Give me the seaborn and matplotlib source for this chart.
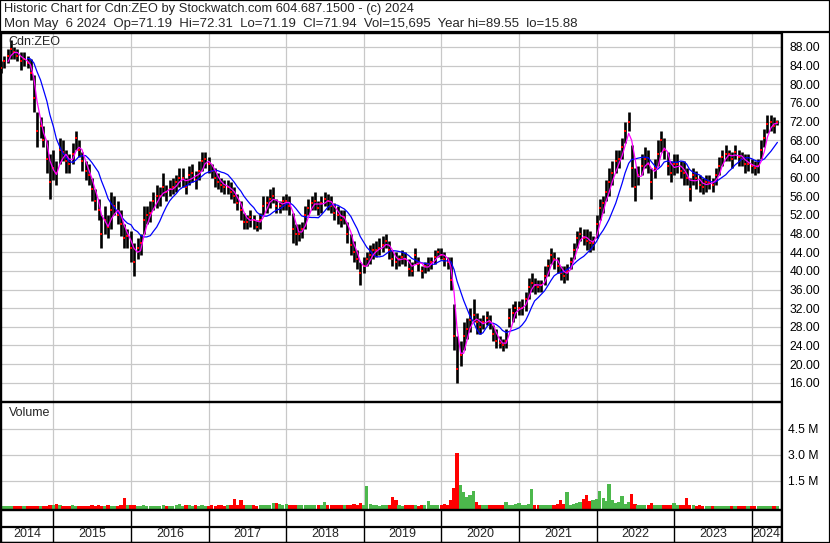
import numpy as np
import pandas as pd
import seaborn as sns
import matplotlib.pyplot as plt
from matplotlib.lines import Line2D
from matplotlib.patches import Rectangle

# -----------------------------
# Data (semi-monthly)
# -----------------------------
high = [
    85, 86, 87.5, 89.5, 88, 87.5, 87, 87, 86, 85.5, 82, 74, 73, 71, 68, 65,
    66, 63.5, 68.5, 68, 66, 65, 67.5, 70, 68, 65.5, 63.5, 63, 60, 57.5, 55.5, 52, 54, 52, 57, 56, 55, 53, 50, 49,
    48.5, 46, 47, 48, 54, 54, 55, 57, 58.5, 58, 61, 58.5, 59.5, 60, 60.5, 62, 62, 60, 62.5, 63, 61.5, 63.5, 65.5, 65.5,
    64.5, 63, 62, 61, 60, 59.5, 59.5, 59, 58, 56.5, 55, 52.5, 52, 53, 52, 51, 52.5, 56, 56, 57.5, 58, 55.5, 55, 56,
    56.5, 56, 52.5, 50, 50, 50.5, 54, 55.5, 56, 57, 55, 56, 57, 56.5, 56, 54.5, 54, 53, 53, 50.5, 48, 46.5, 44.5, 42,
    43, 44, 45.5, 46, 46.5, 47, 47.5, 48, 46.5, 44.5, 44, 43.5, 44.5, 44, 42.5, 42, 45, 43, 41, 42, 43, 43, 44.5, 45,
    45, 44, 43, 43, 33, 26, 25, 29, 30, 32, 34, 31, 30, 30.5, 31.5, 30.5, 28.5, 27.5, 26, 25.5, 27.5, 32, 33, 33.5,
    33.5, 34, 35.5, 38.5, 39.5, 38.5, 38, 38, 41, 42.5, 45, 44, 43, 41, 41, 41.5, 43, 46, 48.5, 49.5, 49, 49, 48.5, 47.5,
    52, 55.5, 56, 59.5, 62, 63.5, 66, 66, 68.5, 72, 74, 67, 62, 62.5, 65, 66.5, 66, 62, 64, 68, 70, 68.5, 65.5, 63.5,
    65, 65, 63.5, 63.5, 62, 60, 62, 61.5, 60.5, 60, 60.5, 60.5, 60, 62, 64.5, 66, 67, 66, 65.5, 67, 66, 65.5, 65, 65,
    64, 63.5, 64, 68, 70.5, 73.5, 73.5, 73, 72.31,
]
low = [
    82.5, 83.5, 84.5, 85.5, 85.5, 85, 83, 84, 83.5, 81, 74, 66.5, 68.5, 66.5, 61, 55.5,
    59.5, 58.5, 63, 63.5, 61, 61, 63, 66, 64.5, 61.5, 59.5, 58.5, 55, 53, 51, 45, 48, 47, 49, 52, 50, 47.5, 45, 45,
    42, 39, 42.5, 43.5, 48, 50, 50.5, 53, 53.5, 54, 56, 55, 56, 56.5, 57, 58, 58, 56.5, 58.5, 59, 57.5, 59.5, 61.5, 62,
    61, 60, 58, 57.5, 57, 56.5, 56.5, 55.5, 54.5, 53, 51, 49, 49, 49.5, 49, 48.5, 49, 52, 52.5, 53.5, 54.5, 52.5, 52.5, 53,
    53, 52, 46, 45.5, 46.5, 47, 49, 52, 53, 53, 52, 52.5, 54, 53, 52.5, 51, 50, 49.5, 50, 46, 43.5, 42, 40.5, 37,
    39.5, 41, 41.5, 42.5, 43, 43.5, 44, 45, 42.5, 41, 40.5, 41, 41.5, 41, 39, 39, 41.5, 40, 38.5, 39.5, 40, 40.5, 41.5, 43,
    42.5, 41, 40.5, 36, 23, 16, 19.5, 23, 25.5, 27, 29, 26.5, 26.5, 27.5, 28.5, 27.5, 25, 23.5, 23.5, 22.8, 23.5, 28, 29, 30,
    30.5, 30.5, 31.5, 34, 35.5, 35, 35.5, 35.5, 37, 39, 41.5, 40.5, 39.5, 38, 37.5, 38, 40.5, 42.5, 45, 46.5, 45.5, 44.5, 44, 44.5,
    47, 51, 52.5, 55, 56, 58.5, 61, 62, 64, 67.5, 70, 58, 55, 58.5, 60.5, 62, 61, 55.5, 60, 62.5, 65.5, 64, 60.5, 59,
    60.5, 61, 60, 58.5, 58.5, 55, 58.5, 57.5, 57, 56.5, 57, 57.5, 57, 58.5, 60.5, 62.5, 63.5, 63.5, 62, 64, 62.5, 62.5, 61, 61.5,
    61, 60.5, 61, 64, 66.5, 69.5, 70, 69.5, 71.19,
]
close = [
    83.5, 85, 86, 87.5, 87, 86, 85, 85.5, 84.5, 82.5, 77, 70, 71, 68, 64, 59,
    62, 61, 66, 65.5, 63.5, 63, 65, 68.5, 66, 63.5, 61.5, 60.5, 57.5, 55, 53, 48, 51, 49.5, 53, 54, 52, 50, 47, 47.5,
    45, 42, 45, 46, 51, 52, 52.5, 55, 56, 56, 58, 57, 57.5, 58, 59, 60, 60, 58, 60.5, 61, 59.5, 61.5, 63.5, 64,
    63, 61.5, 60, 59, 58.5, 58, 58, 57, 56, 54.5, 53, 50.5, 50.5, 51.5, 51, 49.5, 51, 54, 54.5, 55.5, 56, 54, 54, 55,
    55, 54, 49, 48, 48, 49, 52, 53.5, 54.5, 55, 53.5, 54.5, 55.5, 55, 54, 52.5, 52, 51, 51.5, 48, 45.5, 44, 42.5, 39.5,
    41, 42.5, 43.5, 44.5, 44.5, 45, 45.5, 46.5, 44.5, 42.5, 42, 42.5, 43, 42.5, 40.5, 40, 43.5, 41.5, 40, 41, 41.5, 42, 43, 44,
    43.5, 42.5, 42, 38, 26, 19, 22, 26, 27.5, 29.5, 30.5, 29, 28, 29, 30, 29, 26.5, 25, 24.5, 24, 25, 30, 31, 32,
    32, 32, 34, 36.5, 37.5, 37, 36.5, 37, 39, 41, 43.5, 42.5, 41, 39.5, 39, 40, 42, 44.5, 47, 48, 47, 46.5, 46, 46,
    50, 53.5, 54.5, 57, 59, 61, 63.5, 64, 66.5, 70, 72, 62, 58, 60.5, 62.5, 64, 63, 59, 62, 65, 68, 66, 62.5, 61,
    63, 63, 61.5, 61, 60, 57.5, 60.5, 60, 58.5, 58, 59, 59, 58.5, 60.5, 62.5, 64.5, 65, 65, 64, 65.5, 64.5, 64, 63, 63,
    62.5, 62, 62.5, 66, 68.5, 71.5, 72, 71, 71.94,
]
# volume in millions
vol = [
    0.02, 0.03, 0.02, 0.03, 0.03, 0.02, 0.03, 0.03, 0.02, 0.04, 0.05, 0.03, 0.05, 0.04, 0.05, 0.06,
    0.06, 0.12, 0.08, 0.04, 0.03, 0.04, 0.06, 0.03, 0.03, 0.04, 0.05, 0.04, 0.06, 0.05, 0.06, 0.05, 0.04, 0.06, 0.04, 0.05, 0.04, 0.06, 0.5, 0.08,
    0.08, 0.06, 0.05, 0.04, 0.06, 0.05, 0.04, 0.03, 0.05, 0.04, 0.06, 0.04, 0.05, 0.05, 0.06, 0.15, 0.05, 0.06, 0.08, 0.05, 0.06, 0.05, 0.07, 0.05,
    0.05, 0.06, 0.05, 0.08, 0.06, 0.05, 0.07, 0.06, 0.43, 0.08, 0.37, 0.06, 0.08, 0.06, 0.07, 0.05, 0.08, 0.1, 0.06, 0.08, 0.2, 0.22, 0.12, 0.08,
    0.15, 0.08, 0.1, 0.06, 0.08, 0.07, 0.06, 0.09, 0.06, 0.08, 0.07, 0.06, 0.26, 0.08, 0.06, 0.07, 0.09, 0.06, 0.08, 0.1, 0.08, 0.12, 0.09, 0.2,
    0.1, 1.18, 0.15, 0.06, 0.08, 0.05, 0.06, 0.07, 0.08, 0.53, 0.38, 0.06, 0.05, 0.07, 0.06, 0.08, 0.06, 0.05, 0.07, 0.06, 0.32, 0.08, 0.06, 0.07,
    0.06, 0.15, 0.08, 0.35, 1.05, 3.07, 1.24, 0.85, 0.55, 0.66, 0.89, 0.25, 0.1, 0.08, 0.09, 0.08, 0.06, 0.07, 0.09, 0.08, 0.27, 0.1, 0.09, 0.15,
    0.2, 0.1, 0.09, 0.12, 1.01, 0.1, 0.08, 0.1, 0.09, 0.1, 0.08, 0.1, 0.12, 0.4, 0.15, 0.84, 0.1, 0.15, 0.2, 0.25, 0.45, 0.66, 0.3, 0.4,
    0.45, 0.89, 0.5, 0.3, 1.3, 0.38, 0.2, 0.25, 0.61, 0.15, 0.25, 0.72, 0.15, 0.1, 0.1, 0.08, 0.1, 0.23, 0.09, 0.1, 0.08, 0.07, 0.08, 0.06,
    0.2, 0.08, 0.06, 0.08, 0.51, 0.1, 0.06, 0.05, 0.06, 0.04, 0.05, 0.04, 0.04, 0.03, 0.03, 0.04, 0.03, 0.04, 0.03, 0.03, 0.02, 0.03, 0.02, 0.03,
    0.02, 0.03, 0.02, 0.02, 0.03, 0.02, 0.02, 0.03, 0.02,
]
year_labels = ["2014", "2015", "2016", "2017", "2018", "2019", "2020", "2021", "2022", "2023", "2024"]
price_ticks = [16, 20, 24, 28, 32, 36, 40, 44, 48, 52, 56, 60, 64, 68, 72, 76, 80, 84, 88]
vol_ticks = [1.5, 3.0, 4.5]

title1 = "Historic Chart for Cdn:ZEO by Stockwatch.com 604.687.1500 - (c) 2024"
title2 = ("Mon May  6 2024  Op=71.19  Hi=72.31  Lo=71.19  Cl=71.94  "
          "Vol=15,695  Year hi=89.55  lo=15.88")

# -----------------------------
# Frame
# -----------------------------
sns.set_style("white")
plt.rcParams["font.family"] = ["Liberation Sans", "DejaVu Sans"]

dates = pd.date_range("2014-05-01", periods=len(close), freq="SMS")
df = pd.DataFrame({"date": dates, "high": high, "low": low, "close": close, "vol": vol})
df["ma_short"] = df["close"].rolling(3).mean()
df["ma_long"] = df["close"].rolling(9).mean()
df["up"] = df["close"].diff().fillna(0) >= 0

W, H = 830, 543
fig = plt.figure(figsize=(W / 100, H / 100), dpi=100)


def box(x0, y0, x1, y1):
    # pixel box (top-left origin) -> figure fraction
    return [x0 / W, 1 - y1 / H, (x1 - x0) / W, (y1 - y0) / H]


xmin, xmax = pd.Timestamp("2014-04-29"), pd.Timestamp("2024-05-18")
years = pd.date_range("2015-01-01", "2024-01-01", freq="YS")
grid_c = "#c8c8c8"

# -----------------------------
# Price panel
# -----------------------------
ax = fig.add_axes(box(1, 33, 781, 401))
ax.vlines(df["date"], df["low"], df["high"], color="black", lw=1.9, zorder=2)
ax.scatter(df["date"], df["close"], marker="s", s=3, color="red", lw=0, zorder=3)
sns.lineplot(data=df, x="date", y="ma_long", color="#0000ff", lw=0.9, ax=ax, zorder=4)
sns.lineplot(data=df, x="date", y="ma_short", color="#ff00ff", lw=0.9, ax=ax, zorder=5)
ax.set_xlim(xmin, xmax)
ax.set_ylim(12.1, 91.0)
ax.set_yticks(price_ticks)
ax.set_yticklabels([f"{v:.2f}" for v in price_ticks])
ax.set_xticks(years)
ax.yaxis.tick_right()
ax.tick_params(axis="x", labelbottom=False, length=0)
ax.tick_params(axis="y", length=0, pad=6, labelsize=8.7, colors="black")
ax.grid(True, color=grid_c, lw=0.9)
ax.set_axisbelow(True)
ax.set_xlabel("")
ax.set_ylabel("")

# -----------------------------
# Volume panel
# -----------------------------
axv = fig.add_axes(box(1, 402, 781, 509))
vmin = -0.144
axv.bar(df["date"], df["vol"] - vmin, bottom=vmin, width=16,
        color=np.where(df["up"], "#4cb84c", "#ff0000"), lw=0, zorder=2)
axv.set_xlim(xmin, xmax)
axv.set_ylim(vmin, 6.03)
axv.set_yticks(vol_ticks)
axv.set_yticklabels([f"{v:.1f} M" for v in vol_ticks])
axv.set_xticks(years)
axv.yaxis.tick_right()
axv.tick_params(axis="x", labelbottom=False, length=0)
axv.tick_params(axis="y", length=0, pad=5, labelsize=8.7, colors="black")
axv.grid(True, color=grid_c, lw=0.9)
axv.set_axisbelow(True)

# -----------------------------
# Year strip
# -----------------------------
axx = fig.add_axes(box(1, 510, 781, 542))
axx.set_xlim(xmin, xmax)
axx.set_ylim(0, 1)
axx.set_xticks([])
axx.set_yticks([])
axx.axhline(15 / 32, color="black", lw=1.6)
axx.vlines(years, 0, 1, color="black", lw=1.0)
bounds = [xmin] + list(years) + [xmax]
for lab, a, b in zip(year_labels, bounds[:-1], bounds[1:]):
    axx.text(a + (b - a) / 2, 0.235, lab, ha="center", va="center", fontsize=9)

for a in (ax, axv, axx):
    for s in a.spines.values():
        s.set_color("black")
        s.set_linewidth(1.0)

# -----------------------------
# Labels and frame lines
# -----------------------------
fig.text(4 / W, 1 - 9 / H, title1, fontsize=9.25, va="center")
fig.text(4 / W, 1 - 23.5 / H, title2, fontsize=9.5, va="center")
fig.text(8 / W, 1 - 42 / H, "Cdn:ZEO", fontsize=9, va="center")
fig.text(9 / W, 1 - 413 / H, "Volume", fontsize=9, va="center")

fig.add_artist(Line2D([0, 1], [1 - 31.5 / H] * 2, color="black", lw=1.6))
fig.add_artist(Line2D([781.5 / W] * 2, [0, 1 - 31.5 / H], color="black", lw=1.6))
fig.add_artist(Rectangle((0, 0), 1, 1, transform=fig.transFigure, fill=False,
                         edgecolor="black", lw=1.6))

fig.savefig("out.png", dpi=100)
plt.close()
